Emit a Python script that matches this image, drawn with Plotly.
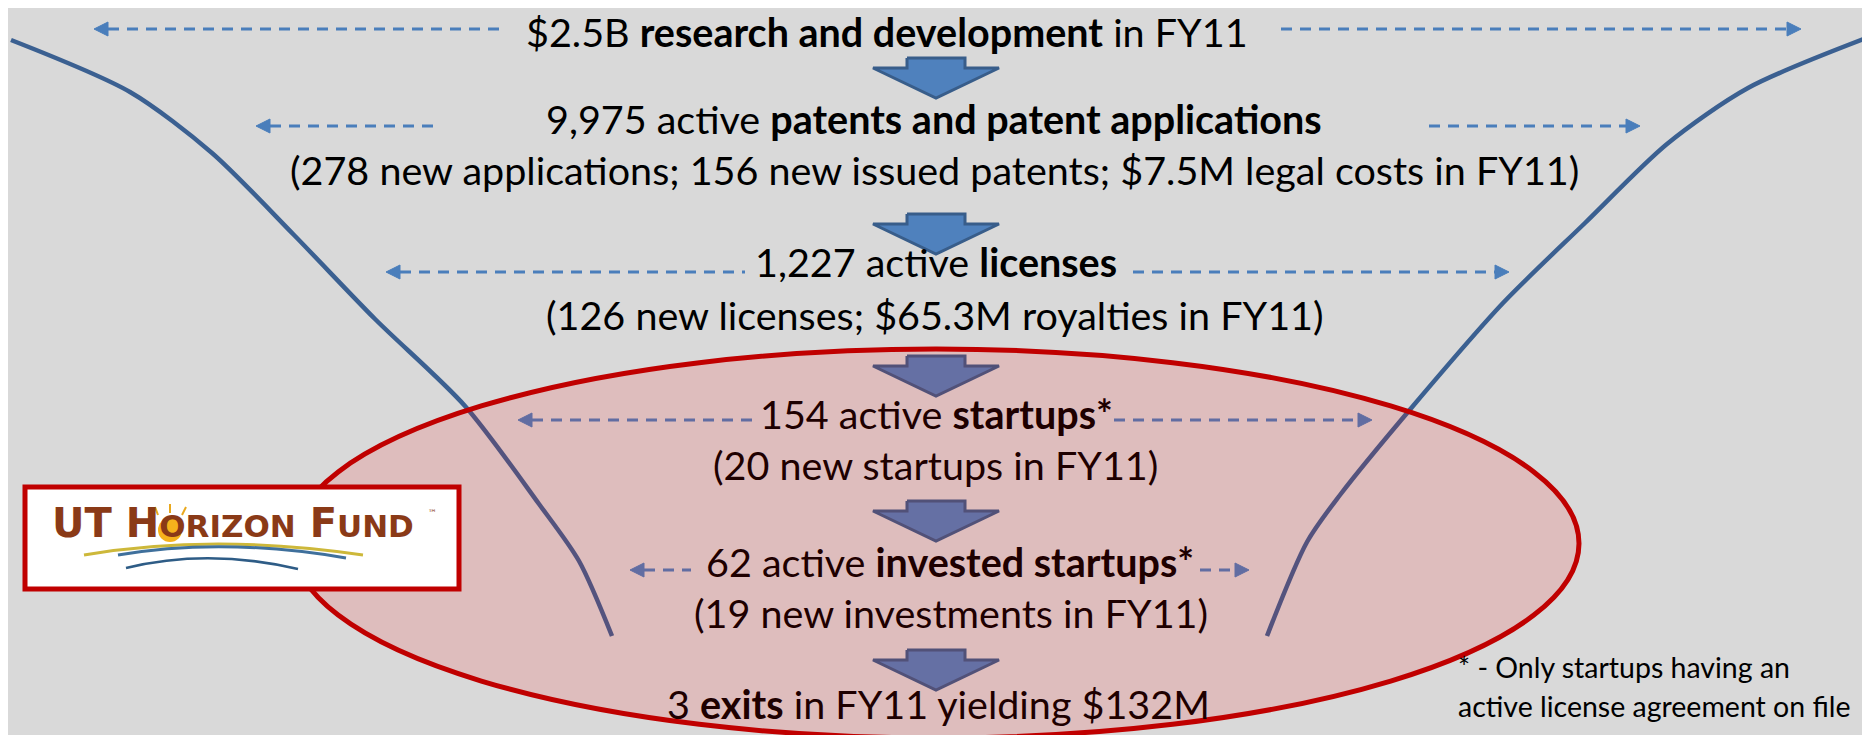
import plotly.graph_objects as go

W, H = 1870, 735

# ---------------- data ----------------
fiscal_year = "FY11"
rd_budget_b = 2.5
patents_active = 9975
patent_new_applications = 278
patent_new_issued = 156
patent_legal_costs_m = 7.5
licenses_active = 1227
licenses_new = 126
royalties_m = 65.3
startups_active = 154
startups_new = 20
invested_active = 62
investments_new = 19
exits_count = 3
exit_yield_m = 132

headlines = [
    f"${rd_budget_b}B <b>research and development</b> in {fiscal_year}",
    f"{patents_active:,} active <b>patents and patent applications</b>",
    f"{licenses_active:,} active <b>licenses</b>",
    f"{startups_active} active <b>startups*</b>",
    f"{invested_active} active <b>invested startups*</b>",
    f"{exits_count} <b>exits</b> in {fiscal_year} yielding ${exit_yield_m}M",
]
details = [
    None,
    f"({patent_new_applications} new applications; {patent_new_issued} new issued patents; "
    f"${patent_legal_costs_m}M legal costs in {fiscal_year})",
    f"({licenses_new} new licenses; ${royalties_m}M royalties in {fiscal_year})",
    f"({startups_new} new startups in {fiscal_year})",
    f"({investments_new} new investments in {fiscal_year})",
    None,
]
footnote_lines = ["* - Only startups having an", "active license agreement on file"]
logo_big = ["UT H", " F"]
logo_small = ["ORIZON", "UND"]

# ---------------- layout guides (pixel positions) ----------------
TEXT_DY = -8
head_x = [879, 926, 928, 928, 942, 930]
head_y = [31, 118, 261, 413, 561, 703]
detail_x = [None, 926, 927, 927, 943, None]
detail_y = [None, 169, 314, 464, 612, None]
inside_ellipse = [False, False, False, True, True, True]

arrow_y = [21, 118, 264, 412, 562]
left_tip = [86, 248, 378, 510, 622]
left_end = [496, 427, 737, 750, 683]
right_start = [1273, 1421, 1125, 1106, 1192]
right_tip = [1793, 1632, 1501, 1364, 1241]

block_cx = 928
block_top = [50, 206, 348, 493, 642]

funnel_left = [(3, 32), (122, 84), (204, 145), (286, 227), (367, 311),
               (457, 398), (531, 496), (571, 553), (604, 628)]
funnel_right = [(1861, 29), (1740, 80), (1659, 136), (1577, 215), (1495, 295),
                (1405, 398), (1332, 487), (1299, 534), (1259, 628)]

ellipse_box = (285, 341, 1571, 730)
logo_box = (17, 479, 451, 581)

FONT = "Lato, 'Open Sans', sans-serif"
MAIN_SIZE = 39.5
DASH_COLOR = "#4a7ebb"
BLOCK_FILL = "#4f81bd"
BLOCK_LINE = "#385d8a"
FUNNEL_COLOR = "#3b6091"

fig = go.Figure()

# funnel curves
for pts in (funnel_left, funnel_right):
    fig.add_trace(go.Scatter(
        x=[p[0] for p in pts], y=[p[1] for p in pts], mode="lines",
        line=dict(color=FUNNEL_COLOR, width=4.5, shape="spline", smoothing=0.8),
        hoverinfo="skip", showlegend=False))

# dashed double arrows
dx, dy = [], []
hx, hy = [], []
AH_L, AH_W = 14, 7
for y, lt, le, rs, rt in zip(arrow_y, left_tip, left_end, right_start, right_tip):
    dx += [lt + AH_L, le, None, rs, rt - AH_L, None]
    dy += [y, y, None, y, y, None]
    hx += [lt, lt + AH_L, lt + AH_L, lt, None, rt, rt - AH_L, rt - AH_L, rt, None]
    hy += [y, y - AH_W, y + AH_W, y, None, y, y - AH_W, y + AH_W, y, None]
fig.add_trace(go.Scatter(x=dx, y=dy, mode="lines",
                         line=dict(color=DASH_COLOR, width=3, dash="11px,8px"),
                         hoverinfo="skip", showlegend=False))
fig.add_trace(go.Scatter(x=hx, y=hy, mode="lines", fill="toself",
                         fillcolor=DASH_COLOR, line=dict(color=DASH_COLOR, width=1),
                         hoverinfo="skip", showlegend=False))

# block arrows
bx, by = [], []
for t in block_top:
    c = block_cx
    bx += [c - 29, c + 29, c + 29, c + 63, c, c - 63, c - 29, c - 29, None]
    by += [t, t, t + 10, t + 10, t + 40, t + 10, t + 10, t, None]
fig.add_trace(go.Scatter(x=bx, y=by, mode="lines", fill="toself",
                         fillcolor=BLOCK_FILL, line=dict(color=BLOCK_LINE, width=3),
                         hoverinfo="skip", showlegend=False))

shapes = []
# translucent red ellipse over everything below it
shapes.append(dict(type="circle", xref="x", yref="y", layer="above",
                   x0=ellipse_box[0], y0=ellipse_box[1], x1=ellipse_box[2], y1=ellipse_box[3],
                   fillcolor="rgba(255,0,0,0.13)", line=dict(color="#c00000", width=5)))
# logo box
shapes.append(dict(type="rect", xref="x", yref="y", layer="above",
                   x0=logo_box[0], y0=logo_box[1], x1=logo_box[2], y1=logo_box[3],
                   fillcolor="white", line=dict(color="#c00000", width=5)))
# logo sun + rays
shapes.append(dict(type="circle", xref="x", yref="y", layer="above",
                   x0=150, y0=510, x1=174, y1=534, fillcolor="#f6b21c", line=dict(width=0)))
for (x0, y0, x1, y1) in [(150, 507, 147, 499), (162, 505, 162, 496), (174, 507, 178, 499)]:
    shapes.append(dict(type="line", xref="x", yref="y", layer="above",
                       x0=x0, y0=y0, x1=x1, y1=y1, line=dict(color="#e9a81d", width=2)))
# logo horizon arcs
shapes.append(dict(type="path", xref="x", yref="y", layer="above",
                   path="M 76 547 Q 205 525 355 547", line=dict(color="#cdb83a", width=3)))
shapes.append(dict(type="path", xref="x", yref="y", layer="above",
                   path="M 110 547 Q 215 529 338 550", line=dict(color="#3f709c", width=3)))
shapes.append(dict(type="path", xref="x", yref="y", layer="above",
                   path="M 118 560 Q 200 540 290 561", line=dict(color="#2e5c86", width=2.5)))

annotations = []
for i, txt in enumerate(headlines):
    col = "#1e0000" if inside_ellipse[i] else "#000000"
    annotations.append(dict(x=head_x[i], y=head_y[i] + TEXT_DY, xref="x", yref="y", text=txt,
                            showarrow=False, xanchor="center", yanchor="middle",
                            font=dict(family=FONT, size=MAIN_SIZE, color=col)))
    if details[i]:
        annotations.append(dict(x=detail_x[i], y=detail_y[i] + TEXT_DY, xref="x", yref="y",
                                text=details[i], showarrow=False, xanchor="center",
                                yanchor="middle",
                                font=dict(family=FONT, size=MAIN_SIZE, color=col)))

for k, line in enumerate(footnote_lines):
    annotations.append(dict(x=1448, y=[659, 698][k], xref="x", yref="y", text=line,
                            showarrow=False, xanchor="left", yanchor="middle",
                            font=dict(family=FONT, size=28.5, color="#000000")))

logo_text = (f"{logo_big[0]}<span style='font-size:31px'>{logo_small[0]}</span>"
             f"{logo_big[1]}<span style='font-size:31px'>{logo_small[1]}</span>")
annotations.append(dict(x=42, y=515, xref="x", yref="y", text=logo_text,
                        showarrow=False, xanchor="left", yanchor="middle",
                        font=dict(family="DejaVu Sans", size=40, color="#8a3a17", weight="bold")))
annotations.append(dict(x=418, y=505, xref="x", yref="y", text="™",
                        showarrow=False, xanchor="left", yanchor="middle",
                        font=dict(family="DejaVu Sans", size=9, color="#8a3a17")))

fig.update_layout(
    width=W, height=H, margin=dict(l=0, r=0, t=0, b=0),
    paper_bgcolor="#d9d9d9", plot_bgcolor="#d9d9d9",
    xaxis=dict(range=[0, W], visible=False, fixedrange=True),
    yaxis=dict(range=[H, 0], visible=False, fixedrange=True),
    shapes=shapes, annotations=annotations, showlegend=False,
)

fig.write_html("out.html", config={"displayModeBar": False})
